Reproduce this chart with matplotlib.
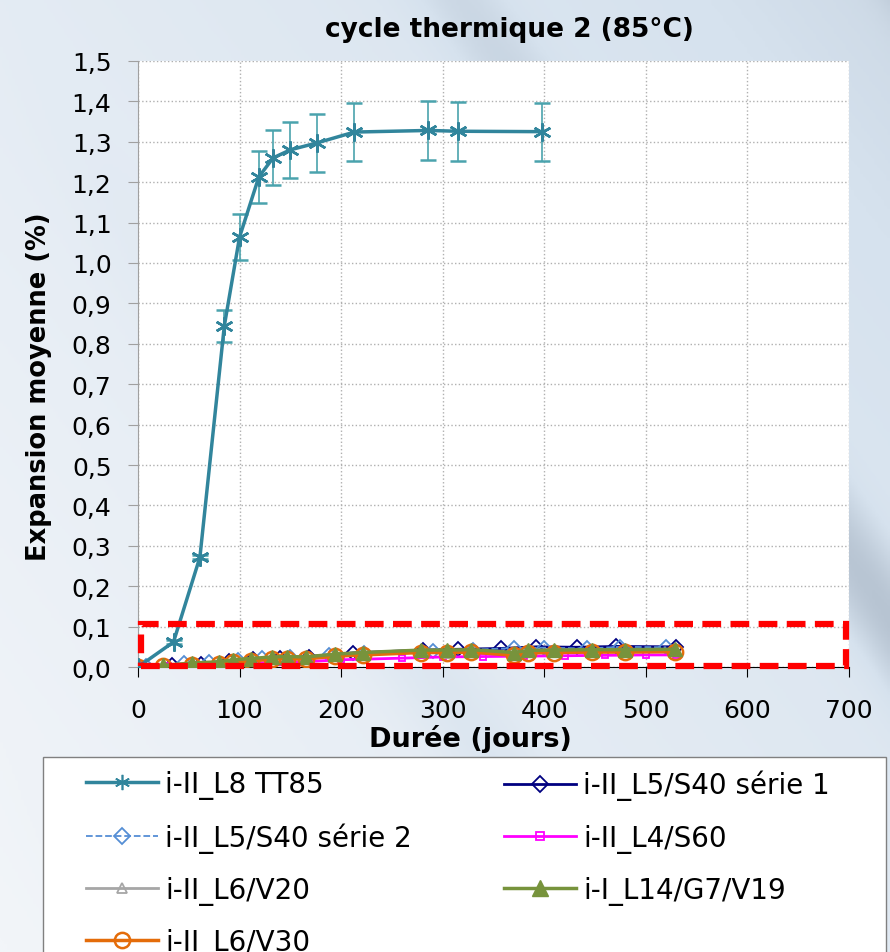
import numpy as np
import matplotlib.pyplot as plt
from matplotlib.patches import Rectangle
from matplotlib.lines import Line2D
from matplotlib.colors import LinearSegmentedColormap
from matplotlib.ticker import FuncFormatter

plt.rcParams['font.family'] = ['DejaVu Sans']

# i-II_L8 TT85 (with error bars)
tt85_days = [0, 35, 61, 85, 100, 119, 133, 150, 176, 213, 286, 315, 398]
tt85_exp = [0.0, 0.062, 0.272, 0.844, 1.064, 1.213, 1.260, 1.280, 1.297, 1.324, 1.328, 1.326, 1.325]
tt85_err = [0.0, 0.004, 0.005, 0.04, 0.057, 0.065, 0.068, 0.07, 0.071, 0.072, 0.073, 0.073, 0.072]

# i-II_L5/S40 serie 1
s40a_days = [0, 34, 62, 90, 113, 140, 168, 212, 281, 315, 357, 392, 432, 471, 530]
s40a_exp = [0.0, 0.005, 0.008, 0.015, 0.02, 0.023, 0.026, 0.035, 0.042, 0.044, 0.046, 0.05, 0.049, 0.051, 0.05]

# i-II_L5/S40 serie 2
s40b_days = [0, 8, 45, 70, 98, 122, 150, 188, 223, 290, 330, 370, 400, 442, 475, 520]
s40b_exp = [0.0, 0.003, 0.009, 0.012, 0.018, 0.022, 0.025, 0.029, 0.034, 0.04, 0.043, 0.047, 0.048, 0.046, 0.05, 0.049]

# i-II_L4/S60
s60_days = [0, 30, 58, 86, 112, 140, 170, 200, 260, 300, 340, 380, 420, 460, 500, 530]
s60_exp = [0.0, 0.002, 0.004, 0.007, 0.01, 0.012, 0.014, 0.018, 0.022, 0.025, 0.026, 0.027, 0.028, 0.029, 0.03, 0.03]

# shared sampling days for V20, G7/V19, V30
v_days = [0, 25, 53, 80, 94, 111, 132, 147, 165, 194, 222, 279, 304, 328, 370, 384, 410, 447, 479, 529]
v20_exp = [0.0, 0.003, 0.008, 0.011, 0.015, 0.018, 0.022, 0.023, 0.022, 0.029, 0.033, 0.038, 0.036, 0.039, 0.033, 0.038, 0.04, 0.041, 0.04, 0.041]
g7_exp = [0.0, 0.004, 0.01, 0.013, 0.018, 0.021, 0.025, 0.026, 0.025, 0.032, 0.036, 0.042, 0.042, 0.043, 0.036, 0.041, 0.042, 0.043, 0.043, 0.044]
v30_exp = [0.0, 0.002, 0.006, 0.008, 0.012, 0.015, 0.02, 0.021, 0.02, 0.027, 0.03, 0.036, 0.036, 0.037, 0.029, 0.035, 0.036, 0.037, 0.037, 0.038]

fig = plt.figure(figsize=(8.9, 9.53), dpi=100)

# slide-like background (light with grey-blue streaks)
bg = fig.add_axes([0, 0, 1, 1], zorder=-10)
gx, gy = np.meshgrid(np.linspace(0, 1, 300), np.linspace(0, 1, 300))
diag = gx * 0.8 + gy * 0.6
shade = 0.25 * gx + 0.2 * gy + 0.25 * np.clip(np.sin(diag * 14), 0, 1) ** 4 * gx
bg_cmap = LinearSegmentedColormap.from_list('bg', ['#f2f5f9', '#d6e2ee', '#8e9cad'])
bg.imshow(shade, cmap=bg_cmap, vmin=0, vmax=0.8, aspect='auto', extent=[0, 1, 0, 1], origin='lower')
bg.axis('off')

ax = fig.add_axes([0.155, 0.299, 0.799, 0.636])
ax.set_facecolor('white')

teal = '#31859c'
ax.errorbar(tt85_days, tt85_exp, yerr=tt85_err, color=teal, ecolor='#4aa3ad',
            elinewidth=1.2, capsize=6, marker=(6, 2, 0), markersize=13,
            markeredgewidth=1.8, lw=2.5, zorder=5)
l1, = ax.plot(s40a_days, s40a_exp, color='#000080', marker='D', mfc='none',
              markersize=7, mew=1.3, lw=2)
l2, = ax.plot(s40b_days, s40b_exp, color='#558ed5', ls='--', marker='D', mfc='none',
              markersize=7, mew=1.3, lw=1.3)
l3, = ax.plot(s60_days, s60_exp, color='#ff00ff', marker='s', mfc='none',
              markersize=5, mew=1.3, lw=2)
l4, = ax.plot(v_days, v20_exp, color='#a6a6a6', marker='^', mfc='none',
              markersize=7, mew=1.3, lw=2)
l6, = ax.plot(v_days, v30_exp, color='#e46c0a', marker='o', mfc='none',
              markersize=11, mew=1.8, lw=2.5, zorder=3)
l5, = ax.plot(v_days, g7_exp, color='#77933c', marker='^', mfc='#77933c',
              markersize=10, lw=2.5, zorder=4)

# highlighted zone
ax.add_patch(Rectangle((3, 0.003), 694, 0.104, fill=False, ec='#ff0000',
                       lw=4.5, ls=(0, (3, 1.5)), clip_on=False, zorder=6))

ax.set_xlim(0, 700)
ax.set_ylim(0, 1.5)
ax.set_xticks(np.arange(0, 701, 100))
ax.set_yticks(np.arange(0, 1.51, 0.1))
ax.yaxis.set_major_formatter(FuncFormatter(lambda v, p: f'{v:.1f}'.replace('.', ',')))
ax.grid(True, ls=':', color='#b0b0b0', lw=1)
ax.tick_params(labelsize=18, length=7)
ax.tick_params(axis='x', pad=15)
ax.tick_params(axis='y', color='#a0a0a0', pad=12)
for s in ['top', 'right']:
    ax.spines[s].set_visible(False)
ax.spines['left'].set_color('#a0a0a0')
ax.spines['bottom'].set_color('black')

ax.set_title('cycle thermique 2 (85°C)', fontsize=19, fontweight='bold', pad=18, x=0.523)
ax.set_xlabel('Durée (jours)', fontsize=19.5, fontweight='bold', labelpad=2, x=0.467)
ax.set_ylabel('Expansion moyenne (%)', fontsize=18.5, fontweight='bold', labelpad=14, y=0.465)

# legend: frame drawn separately, two columns placed by hand
fig.patches.append(Rectangle((43 / 890, -0.05), 843 / 890, 0.05 + 0.2046,
                             transform=fig.transFigure, fc='white', ec='#808080', lw=1))

def proxy(line, **kw):
    return Line2D([], [], color=line.get_color(), ls=line.get_linestyle(),
                  lw=line.get_linewidth(), marker=line.get_marker(),
                  mfc=line.get_markerfacecolor(), mec=line.get_markeredgecolor(),
                  mew=line.get_markeredgewidth(), **kw)

h_tt = Line2D([], [], color=teal, lw=2.5, marker=(6, 2, 0), markersize=11, mew=1.2)
col1 = [h_tt, proxy(l2, markersize=8), proxy(l4, markersize=7), proxy(l6, markersize=11)]
lab1 = ['i-II_L8 TT85', 'i-II_L5/S40 série 2', 'i-II_L6/V20', 'i-II_L6/V30']
col2 = [proxy(l1, markersize=8), proxy(l3, markersize=6), proxy(l5, markersize=11)]
lab2 = ['i-II_L5/S40 série 1', 'i-II_L4/S60', 'i-I_L14/G7/V19']

leg_kw = dict(loc='upper left', fontsize=20, frameon=False, handlelength=2.6,
              handletextpad=0.25, labelspacing=0.83, borderpad=0, borderaxespad=0)
leg1 = fig.legend(col1, lab1, bbox_to_anchor=(86 / 890, 1 - 771 / 953), **leg_kw)
leg2 = fig.legend(col2, lab2, bbox_to_anchor=(504 / 890, 1 - 771 / 953), **leg_kw)

fig.savefig('out.png', dpi=100)
